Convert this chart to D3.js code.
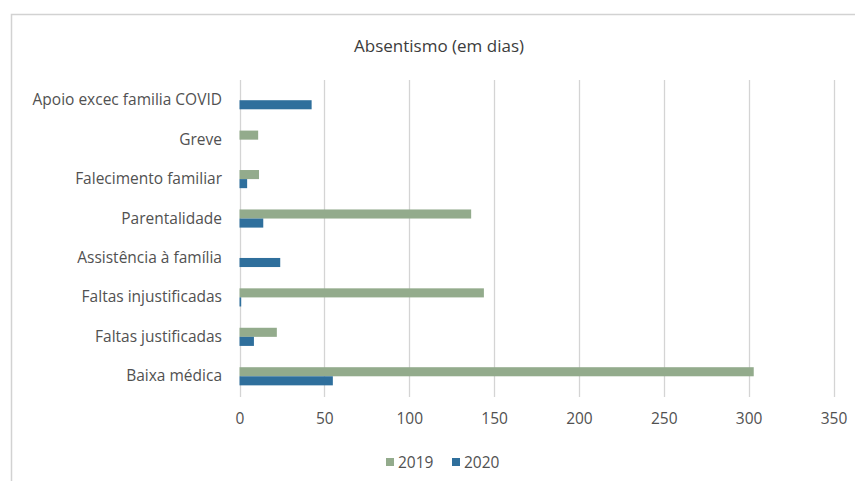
<!DOCTYPE html>
<html><head><meta charset="utf-8">
<script src="https://cdn.jsdelivr.net/npm/d3@7"></script>
<style>body{margin:0;background:#fff}svg{display:block}</style>
</head><body>
<svg id="c" width="855" height="481"></svg>
<script>
const categories = ["Apoio excec familia COVID","Greve","Falecimento familiar","Parentalidade","Assistência à família","Faltas injustificadas","Faltas justificadas","Baixa médica"];
const seriesNames = ["2019","2020"];
const values2019 = [0, 11, 11.5, 136.5, 0, 144, 22, 303];
const values2020 = [42.5, 0, 4.5, 14, 24, 1, 8.5, 55];
const xTicks = [0,50,100,150,200,250,300,350];
const colors = ["#93ab8c","#2f6f9c"];

const svg = d3.select("#c");
const font = "'Open Sans', Lato, sans-serif";
const textColor = "#515151";

// chart border
svg.append("rect").attr("x",11.5).attr("y",14.5).attr("width",860).attr("height",480)
  .attr("fill","#fff").attr("stroke","#d2d2d2").attr("stroke-width",1.5);

const x = d3.scaleLinear().domain([0,350]).range([239.5,833.5]);
const y = d3.scaleBand().domain(categories).range([80.5,396]).paddingInner(0.54).paddingOuter(0.27);
const ys = d3.scaleBand().domain(seriesNames).range([0,y.bandwidth()]);

// gridlines
svg.append("g").selectAll("line").data(xTicks).join("line")
  .attr("x1",d=>Math.round(x(d))+0.5).attr("x2",d=>Math.round(x(d))+0.5)
  .attr("y1",80).attr("y2",397).attr("stroke","#d4d4d4").attr("stroke-width",1.3);

// bars
const data = categories.map((c,i)=>({c, v:[values2019[i], values2020[i]]}));
const g = svg.append("g");
data.forEach(d=>{
  seriesNames.forEach((s,j)=>{
    if(d.v[j] > 0){
      g.append("rect").attr("x",x(0)).attr("y",y(d.c)+ys(s))
        .attr("width",x(d.v[j])-x(0)).attr("height",ys.bandwidth())
        .attr("fill",colors[j]);
    }
  });
});

// x axis
const xAxis = d3.axisBottom(x).tickValues(xTicks).tickSize(0).tickPadding(0);
const xa = svg.append("g").attr("transform","translate(0,424)").call(xAxis);
xa.select(".domain").remove();
xa.selectAll("text").attr("font-family",font).attr("font-size",15.5).attr("font-weight",500).attr("fill",textColor).attr("dy",0);

// y axis
const yAxis = d3.axisLeft(y).tickSize(0).tickPadding(0);
const ya = svg.append("g").attr("transform","translate(222,0)").call(yAxis);
ya.select(".domain").remove();
ya.selectAll("text").attr("font-family",font).attr("font-size",15.5).attr("font-weight",500).attr("fill",textColor);

// title
svg.append("text").attr("x",439).attr("y",52).attr("text-anchor","middle")
  .attr("font-family",font).attr("font-size",17).attr("font-weight",500).attr("fill","#3c3c3c").text("Absentismo (em dias)");

// legend
const legX = [386, 452];
seriesNames.forEach((s,j)=>{
  svg.append("rect").attr("x",legX[j]).attr("y",458).attr("width",8).attr("height",8).attr("fill",colors[j]);
  svg.append("text").attr("x",legX[j]+12).attr("y",468).attr("font-family",font).attr("font-size",15.5).attr("font-weight",500)
    .attr("fill",textColor).text(s);
});
</script>
</body></html>
